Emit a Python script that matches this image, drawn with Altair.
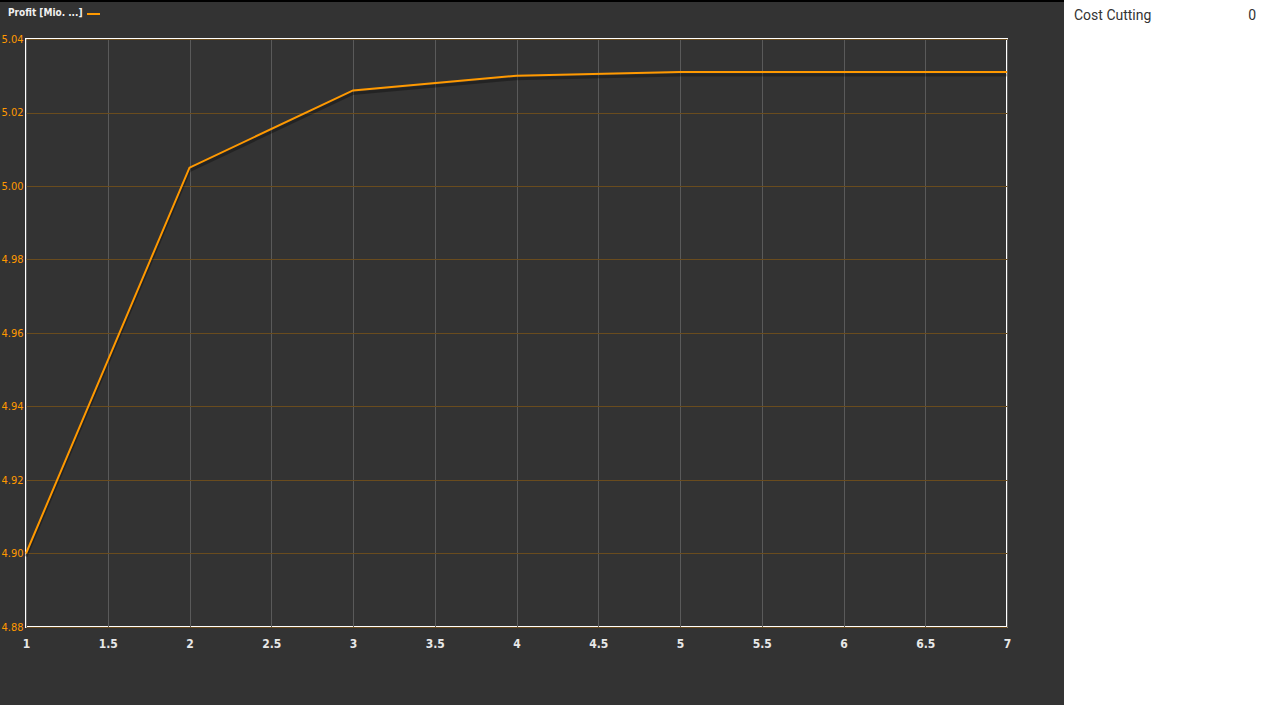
import altair as alt
import pandas as pd

# data
x_vals = [1, 2, 3, 4, 5, 6, 7]
profit = [4.900, 5.005, 5.026, 5.030, 5.031, 5.031, 5.031]
series_name = "Profit [Mio. ...]"
x_ticks = [1, 1.5, 2, 2.5, 3, 3.5, 4, 4.5, 5, 5.5, 6, 6.5, 7]
y_ticks = [4.88, 4.90, 4.92, 4.94, 4.96, 4.98, 5.00, 5.02, 5.04]
side_label = "Cost Cutting"
side_value = "0"

df = pd.DataFrame({"x": x_vals, "profit": profit})

W, H = 981, 588
FONT = "Arial Narrow, Liberation Sans Narrow, DejaVu Sans Condensed, Roboto Condensed, Liberation Sans, sans-serif"
ORANGE = "#ff9900"

x_enc = alt.X(
    "x:Q",
    scale=alt.Scale(domain=[1, 7], nice=False, zero=False),
    axis=alt.Axis(
        values=x_ticks, format="~g", title=None, labelFlush=False,
        labelColor="#e8e8e8", labelFont=FONT, labelFontSize=12, labelFontWeight="bold",
        labelPadding=11, tickSize=0, domain=False,
        gridColor="#5a5a5a", gridWidth=1,
    ),
)
y_enc = alt.Y(
    "profit:Q",
    scale=alt.Scale(domain=[4.88, 5.04], nice=False, zero=False),
    axis=alt.Axis(
        values=y_ticks, format=".2f", title=None,
        labelColor=ORANGE, labelFont=FONT, labelFontSize=11,
        labelPadding=3, tickSize=0, domain=False,
        gridColor="#6a4c1e", gridWidth=1,
    ),
)

shadow = alt.Chart(df).mark_line(
    color="#000000", opacity=0.3, strokeWidth=3, yOffset=3
).encode(x=x_enc, y=y_enc)

line = alt.Chart(df).mark_line(color=ORANGE, strokeWidth=2).encode(x=x_enc, y=y_enc)

one = pd.DataFrame({"k": [0]})

# right white panel
panel = alt.Chart(one).mark_rect(color="white").encode(
    x=alt.value(1038), x2=alt.value(1240), y=alt.value(-40), y2=alt.value(670)
)
top_bar = alt.Chart(one).mark_rect(color="#000000").encode(
    x=alt.value(-30), x2=alt.value(1038), y=alt.value(-40), y2=alt.value(-37)
)
side_txt = alt.Chart(pd.DataFrame({"t": [side_label]})).mark_text(
    align="left", baseline="middle", font="Roboto", fontSize=14, color="#333333"
).encode(x=alt.value(1048), y=alt.value(-23), text="t:N")
side_val = alt.Chart(pd.DataFrame({"t": [side_value]})).mark_text(
    align="right", baseline="middle", font="Roboto", fontSize=14, color="#333333"
).encode(x=alt.value(1230), y=alt.value(-23), text="t:N")

legend_txt = alt.Chart(pd.DataFrame({"t": [series_name]})).mark_text(
    align="left", baseline="middle", font=FONT, fontSize=10, fontWeight="bold", color="#f0f0f0"
).encode(x=alt.value(-18), y=alt.value(-26), text="t:N")
legend_sym = alt.Chart(one).mark_rule(color=ORANGE, strokeWidth=2).encode(
    x=alt.value(61), x2=alt.value(74), y=alt.value(-25)
)

chart = alt.layer(
    panel, top_bar, shadow, line, side_txt, side_val, legend_txt, legend_sym
).properties(
    width=W, height=H,
    background="#333333",
    autosize=alt.AutoSizeParams(type="none"),
    padding={"left": 26, "top": 39, "right": 257, "bottom": 78},
).configure_view(stroke="white", strokeWidth=2)

chart.save("out.html", embed_options={"renderer": "svg", "actions": False})
